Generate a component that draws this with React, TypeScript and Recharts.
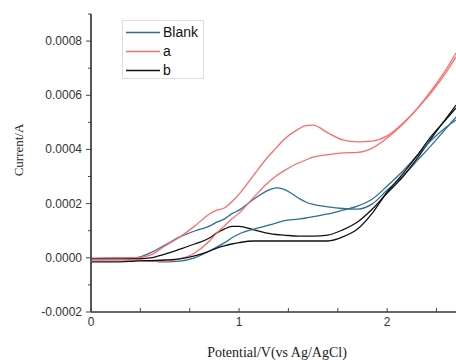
import React from 'react';
import { LineChart, Line, XAxis, YAxis, Legend } from 'recharts';

// Potential (V vs Ag/AgCl)
const potentials = [0, 0.2, 0.3, 0.4, 0.5, 0.6, 0.7, 0.8, 0.85, 0.9, 0.95, 1.0, 1.1, 1.2, 1.25, 1.3, 1.4, 1.45, 1.5, 1.6, 1.7, 1.8, 1.9, 2.0, 2.1, 2.2, 2.3, 2.4, 2.465];

// Currents in units of 1e-4 A
const blankForward = [-0.03, 0, 0, 0.18, 0.47, 0.77, 0.99, 1.17, 1.32, 1.43, 1.62, 1.76, 2.17, 2.5, 2.58, 2.54, 2.21, 2.06, 1.97, 1.88, 1.82, 1.8, 1.99, 2.5, 2.98, 3.57, 4.16, 4.79, 5.2];
const blankReverse = [-0.04, -0.04, -0.08, -0.12, -0.15, -0.12, 0, 0.25, 0.4, 0.55, 0.73, 0.88, 1.06, 1.21, 1.28, 1.36, 1.43, 1.47, 1.52, 1.62, 1.76, 1.91, 2.17, 2.65, 3.17, 3.76, 4.35, 4.83, 5.09];
const aForward = [-0.01, 0, 0, 0.1, 0.44, 0.77, 1.17, 1.62, 1.76, 1.84, 2.06, 2.35, 3.06, 3.76, 4.05, 4.35, 4.75, 4.88, 4.9, 4.61, 4.35, 4.28, 4.31, 4.5, 4.94, 5.49, 6.19, 6.97, 7.56];
const aReverse = [-0.08, -0.08, -0.08, -0.12, -0.12, -0.04, 0.18, 0.62, 0.92, 1.17, 1.43, 1.65, 2.24, 2.8, 3.02, 3.2, 3.5, 3.61, 3.72, 3.81, 3.87, 3.89, 4.05, 4.42, 4.9, 5.49, 6.12, 6.86, 7.42];
const bForward = [-0.04, -0.04, -0.04, 0, 0.14, 0.32, 0.51, 0.73, 0.92, 1.06, 1.16, 1.16, 1.03, 0.9, 0.86, 0.84, 0.8, 0.8, 0.8, 0.84, 1.03, 1.32, 1.8, 2.39, 2.95, 3.65, 4.42, 5.16, 5.64];
const bReverse = [-0.15, -0.15, -0.12, -0.1, -0.08, -0.04, 0.07, 0.25, 0.36, 0.44, 0.51, 0.56, 0.62, 0.62, 0.62, 0.62, 0.62, 0.62, 0.62, 0.62, 0.77, 1.06, 1.65, 2.43, 3.06, 3.76, 4.5, 5.12, 5.53];

const xTicks = [0, 0.333, 0.667, 1, 1.333, 1.667, 2, 2.333];
const yTicks = [-2, -1, 0, 1, 2, 3, 4, 5, 6, 7, 8, 9];

const series = [
  { name: 'Blank', color: '#2c6e98', fwd: 'blankF', rev: 'blankR' },
  { name: 'a', color: '#ff6b6b', fwd: 'aF', rev: 'aR' },
  { name: 'b', color: '#111111', fwd: 'bF', rev: 'bR' },
];

const rows = potentials.map((p, i) => ({
  potential: p,
  blankF: blankForward[i],
  blankR: blankReverse[i],
  aF: aForward[i],
  aR: aReverse[i],
  bF: bForward[i],
  bR: bReverse[i],
}));

const sans = '"Liberation Sans", Arial, sans-serif';
const serif = '"Liberation Serif", "Times New Roman", serif';

const XTick = (props: any) => {
  const { x, y, payload } = props;
  const v = payload.value;
  const major = Math.abs(v - Math.round(v)) < 1e-6;
  return (
    <g>
      <line x1={x} y1={y} x2={x} y2={y - 4} stroke="#444" strokeWidth={1} />
      {major && (
        <text x={x} y={y + 14} textAnchor="middle" fontSize={12} fontFamily={sans} fill="#333">
          {Math.round(v)}
        </text>
      )}
    </g>
  );
};

const YTick = (props: any) => {
  const { x, y, payload } = props;
  const v = payload.value;
  const major = v % 2 === 0;
  return (
    <g>
      <line x1={x} y1={y} x2={x - (major ? 5 : 3)} y2={y} stroke="#444" strokeWidth={1} />
      {major && (
        <text x={x - 9} y={y + 4} textAnchor="end" fontSize={12} fontFamily={sans} fill="#333">
          {(v / 10000).toFixed(4)}
        </text>
      )}
    </g>
  );
};

const renderLegend = () => (
  <div
    style={{
      border: '1px solid #dddddd',
      background: '#fff',
      width: 82,
      height: 59,
      boxSizing: 'border-box',
      paddingTop: 2,
    }}
  >
    {series.map((s) => (
      <div key={s.name} style={{ display: 'flex', alignItems: 'center', height: 19 }}>
        <svg width={40} height={19} style={{ display: 'block' }}>
          <line x1={3} y1={9.5} x2={37} y2={9.5} stroke={s.color} strokeWidth={1.5} />
        </svg>
        <span style={{ fontFamily: sans, fontSize: 14, color: '#111', lineHeight: '19px' }}>{s.name}</span>
      </div>
    ))}
  </div>
);

export default function App() {
  return (
    <div style={{ position: 'absolute', left: 0, top: 0, width: 456, height: 360, background: '#fff' }}>
      <LineChart width={456} height={360} data={rows} margin={{ top: 14, right: 0, bottom: 0, left: 0 }}>
        <XAxis
          type="number"
          dataKey="potential"
          domain={[0, 2.465]}
          allowDataOverflow
          ticks={xTicks}
          interval={0}
          tick={XTick}
          tickLine={false}
          tickSize={0}
          tickMargin={0}
          height={48}
          axisLine={{ stroke: '#333', strokeWidth: 1.5 }}
          label={(p: any) => {
            const vb = p.viewBox;
            return (
              <text x={277} y={vb.y + 45} textAnchor="middle" fontSize={14} fontFamily={serif} fill="#222">
                Potential/V(vs Ag/AgCl)
              </text>
            );
          }}
        />
        <YAxis
          type="number"
          domain={[-2, 9]}
          allowDataOverflow
          ticks={yTicks}
          interval={0}
          tick={YTick}
          tickLine={false}
          tickSize={0}
          tickMargin={0}
          width={91}
          axisLine={{ stroke: '#555', strokeWidth: 2 }}
          label={() => {
            const cx = 18;
            const cy = 150;
            return (
              <text
                x={cx}
                y={cy}
                transform={`rotate(-90 ${cx} ${cy})`}
                textAnchor="middle"
                dominantBaseline="central"
                fontSize={13}
                fontFamily={serif}
                fill="#222"
              >
                Current/A
              </text>
            );
          }}
        />
        <Legend
          layout="horizontal"
          verticalAlign="middle"
          align="center"
          content={renderLegend}
          wrapperStyle={{ position: 'absolute', left: 122, top: 20, width: 82, height: 59 }}
        />
        {series.map((s) => (
          <Line
            key={s.fwd}
            type="monotone"
            dataKey={s.fwd}
            name={s.name}
            stroke={s.color}
            strokeWidth={1.3}
            dot={false}
            activeDot={false}
            isAnimationActive={false}
          />
        ))}
        {series.map((s) => (
          <Line
            key={s.rev}
            type="monotone"
            dataKey={s.rev}
            name={s.name + ' reverse'}
            legendType="none"
            stroke={s.color}
            strokeWidth={1.3}
            dot={false}
            activeDot={false}
            isAnimationActive={false}
          />
        ))}
      </LineChart>
    </div>
  );
}
